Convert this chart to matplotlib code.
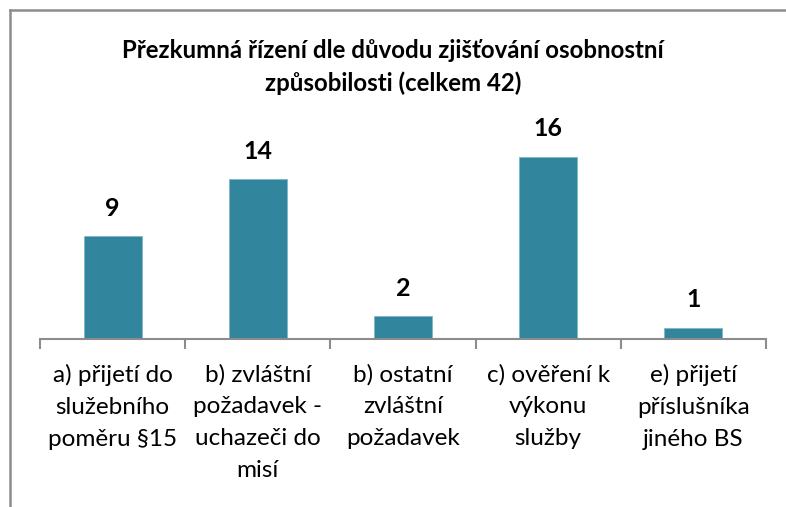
import matplotlib
matplotlib.use('Agg')
import matplotlib.pyplot as plt
from matplotlib.lines import Line2D

plt.rcParams['font.family'] = ['Lato', 'DejaVu Sans']

# data
categories = [
    'a) přijetí do\nslužebního\npoměru §15',
    'b) zvláštní\npožadavek -\nuchazeči do\nmisí',
    'b) ostatní\nzvláštní\npožadavek',
    'c) ověření k\nvýkonu\nslužby',
    'e) přijetí\npříslušníka\njiného BS',
]
values = [9, 14, 2, 16, 1]
title = 'Přezkumná řízení dle důvodu zjišťování osobnostní\nzpůsobilosti (celkem 42)'

W, H = 786, 507
fig = plt.figure(figsize=(W / 100, H / 100), dpi=100)
fig.patch.set_facecolor('white')

# plot area in pixels: x 40..766, baseline at y=339, 18 units tall
x0, x1, base, top = 40, 766, 339, 339 - 18 * 11.4
ax = fig.add_axes([x0 / W, (H - base) / H, (x1 - x0) / W, (base - top) / H])
ax.bar(range(len(values)), values, width=0.4, color='#31859c',
       edgecolor='#7fb8c8', linewidth=0.6)
ax.set_xlim(-0.5, len(values) - 0.5)
ax.set_ylim(0, 18)
for s in ['top', 'right', 'left']:
    ax.spines[s].set_visible(False)
ax.spines['bottom'].set_color('#8c8c8c')
ax.spines['bottom'].set_linewidth(1.5)
ax.set_yticks([])
ax.set_xticks([i - 0.5 for i in range(len(values) + 1)])
ax.set_xticklabels([])
ax.tick_params(axis='x', length=7, width=1.5, color='#8c8c8c')

for i, v in enumerate(values):
    ax.annotate(str(v), (i, v), xytext=(0, 20), textcoords='offset points',
                ha='center', va='center', fontsize=18, fontweight='bold',
                color='black')
    ax.annotate(categories[i], (i, 0), xytext=(0, -18), textcoords='offset points',
                ha='center', va='top', fontsize=17.5, color='black',
                linespacing=1.63)

fig.text(0.5, 1 - 67 / H, title, ha='center', va='center', fontsize=17.3,
         fontweight='bold', linespacing=1.5)

# chart frame (cropped at right and bottom)
fig.add_artist(Line2D([10 / W, 10 / W], [0, 1 - 10 / H], color='#8c8c8c',
                      linewidth=1.8, transform=fig.transFigure))
fig.add_artist(Line2D([10 / W, 1], [1 - 10 / H, 1 - 10 / H], color='#8c8c8c',
                      linewidth=1.8, transform=fig.transFigure))

fig.savefig('out.png', dpi=100, facecolor='white')
